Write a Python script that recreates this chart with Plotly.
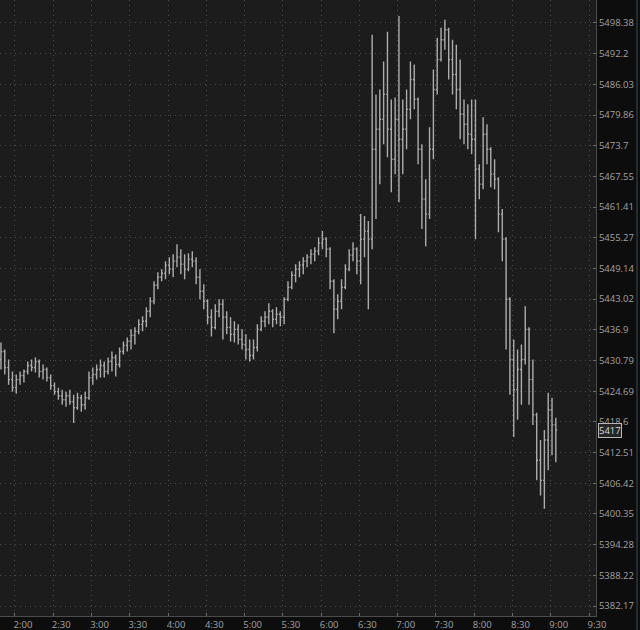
import math
import pandas as pd
import plotly.graph_objects as go

# ---- data (3-minute OHLC bars) ----
opens = [
    5431.0, 5432.6, 5429.4, 5427.0, 5425.4, 5427.0, 5427.8, 5428.6, 5429.8, 5429.4,
    5430.6, 5428.6, 5429.0, 5427.4, 5425.8, 5424.6, 5423.8, 5423.0, 5423.8, 5422.6,
    5421.4, 5423.4, 5422.0, 5423.4, 5427.4, 5428.0, 5429.0, 5429.8, 5428.6, 5430.6,
    5431.4, 5430.0, 5432.6, 5433.8, 5434.6, 5435.8, 5436.6, 5438.0, 5438.6, 5440.6,
    5442.6, 5445.8, 5447.4, 5448.2, 5449.8, 5449.0, 5450.6, 5451.4, 5450.0, 5449.0,
    5451.0, 5450.6, 5447.4, 5444.6, 5442.6, 5439.4, 5437.4, 5440.6, 5442.0, 5439.4,
    5437.4, 5436.0, 5437.0, 5435.0, 5434.0, 5433.0, 5431.8, 5433.4, 5437.0, 5438.6,
    5439.4, 5440.6, 5439.0, 5440.0, 5439.4, 5443.0, 5445.4, 5447.8, 5449.0, 5449.8,
    5450.6, 5451.4, 5452.0, 5452.6, 5454.2, 5455.0, 5453.0, 5446.6, 5441.0, 5442.6,
    5445.4, 5449.0, 5451.8, 5453.0, 5450.6, 5455.0, 5456.6, 5455.0, 5473.0, 5477.0,
    5479.0, 5484.0, 5477.0, 5471.0, 5479.0, 5475.0, 5477.0, 5481.0, 5487.0, 5483.0,
    5473.0, 5463.0, 5460.0, 5473.0, 5485.0, 5491.0, 5495.0, 5497.0, 5491.0, 5488.0,
    5485.0, 5480.0, 5478.0, 5476.0, 5475.0, 5469.0, 5466.0, 5476.0, 5473.0, 5468.0,
    5467.0, 5460.0, 5455.0, 5443.0, 5431.0, 5425.0, 5429.0, 5431.0, 5437.0, 5427.0,
    5420.0, 5411.0, 5407.0, 5415.0, 5421.0, 5418.0,
]
highs = [
    5434.4, 5433.0, 5431.0, 5428.6, 5428.0, 5428.6, 5429.0, 5430.6, 5431.0, 5431.4,
    5431.0, 5430.0, 5429.4, 5428.0, 5426.4, 5425.4, 5425.0, 5424.6, 5425.0, 5424.0,
    5424.4, 5424.0, 5424.6, 5428.6, 5429.4, 5430.0, 5431.0, 5430.6, 5431.4, 5432.6,
    5432.0, 5433.4, 5434.6, 5435.4, 5437.0, 5437.4, 5439.0, 5439.6, 5441.4, 5443.4,
    5446.6, 5448.4, 5449.0, 5450.6, 5451.4, 5452.0, 5454.0, 5453.0, 5452.0, 5452.2,
    5452.6, 5451.4, 5449.0, 5446.0, 5443.0, 5441.0, 5442.0, 5443.0, 5443.0, 5440.6,
    5439.4, 5438.6, 5438.0, 5437.0, 5436.0, 5435.0, 5435.0, 5438.0, 5439.6, 5440.6,
    5442.2, 5441.0, 5441.4, 5440.6, 5443.4, 5446.6, 5448.6, 5450.0, 5450.6, 5451.4,
    5452.0, 5453.0, 5453.4, 5455.4, 5456.6, 5455.4, 5453.4, 5447.0, 5444.0, 5447.0,
    5450.0, 5453.0, 5454.4, 5453.4, 5460.0, 5459.6, 5458.6, 5496.0, 5484.0, 5485.0,
    5490.6, 5496.6, 5483.0, 5483.4, 5499.8, 5483.0, 5485.0, 5490.6, 5490.0, 5483.4,
    5474.0, 5467.0, 5477.4, 5489.0, 5495.4, 5497.4, 5499.0, 5497.4, 5495.0, 5494.0,
    5491.0, 5483.0, 5482.0, 5483.0, 5483.0, 5470.0, 5479.4, 5478.0, 5473.4, 5471.0,
    5467.4, 5461.0, 5455.4, 5443.4, 5435.0, 5433.0, 5434.0, 5441.6, 5437.4, 5431.0,
    5420.4, 5415.0, 5417.0, 5424.4, 5423.4, 5419.4,
]
lows = [
    5429.0, 5428.0, 5426.0, 5424.6, 5424.2, 5426.0, 5426.4, 5428.0, 5428.6, 5428.4,
    5427.4, 5427.0, 5426.6, 5425.0, 5424.0, 5423.0, 5422.0, 5421.6, 5422.0, 5418.4,
    5421.0, 5420.6, 5421.0, 5423.0, 5426.0, 5427.0, 5427.4, 5427.4, 5428.0, 5428.6,
    5427.6, 5429.4, 5432.0, 5432.6, 5433.0, 5434.0, 5436.0, 5436.6, 5437.4, 5439.4,
    5442.0, 5445.0, 5446.6, 5447.0, 5448.0, 5447.4, 5449.4, 5448.0, 5447.0, 5448.6,
    5449.4, 5446.0, 5443.0, 5441.0, 5438.0, 5435.6, 5437.0, 5439.4, 5435.0, 5436.0,
    5434.6, 5434.4, 5434.0, 5433.0, 5431.0, 5430.6, 5431.0, 5432.6, 5436.6, 5437.4,
    5438.0, 5437.4, 5438.0, 5437.6, 5438.0, 5442.6, 5445.0, 5446.4, 5447.4, 5448.0,
    5449.4, 5450.0, 5450.6, 5451.8, 5453.0, 5451.4, 5445.0, 5436.2, 5439.0, 5441.0,
    5445.0, 5448.6, 5450.6, 5448.0, 5446.0, 5451.4, 5441.0, 5453.0, 5459.0, 5466.0,
    5474.0, 5471.4, 5464.4, 5468.0, 5462.4, 5468.0, 5473.0, 5479.0, 5481.0, 5470.0,
    5457.0, 5453.6, 5459.0, 5471.0, 5484.0, 5490.6, 5493.0, 5487.0, 5484.0, 5481.0,
    5475.0, 5474.0, 5473.0, 5472.0, 5455.0, 5463.0, 5465.0, 5470.0, 5465.4, 5465.0,
    5456.4, 5450.6, 5433.0, 5424.0, 5415.6, 5419.0, 5422.0, 5430.0, 5422.0, 5418.0,
    5407.0, 5404.0, 5401.4, 5409.0, 5412.0, 5410.6,
]
closes = [
    5432.6, 5429.4, 5427.0, 5425.4, 5427.0, 5427.8, 5428.6, 5429.8, 5429.4, 5430.6,
    5428.6, 5429.0, 5427.4, 5425.8, 5424.6, 5423.8, 5423.0, 5423.8, 5422.6, 5421.4,
    5423.4, 5422.0, 5423.4, 5427.4, 5428.0, 5429.0, 5429.8, 5428.6, 5430.6, 5431.4,
    5430.0, 5432.6, 5433.8, 5434.6, 5435.8, 5436.6, 5438.0, 5438.6, 5440.6, 5442.6,
    5445.8, 5447.4, 5448.2, 5449.8, 5449.0, 5450.6, 5451.4, 5450.0, 5449.0, 5451.0,
    5450.6, 5447.4, 5444.6, 5442.6, 5439.4, 5437.4, 5440.6, 5442.0, 5439.4, 5437.4,
    5436.0, 5437.0, 5435.0, 5434.0, 5433.0, 5431.8, 5433.4, 5437.0, 5438.6, 5439.4,
    5440.6, 5439.0, 5440.0, 5439.4, 5443.0, 5445.4, 5447.8, 5449.0, 5449.8, 5450.6,
    5451.4, 5452.0, 5452.6, 5454.2, 5455.0, 5453.0, 5446.6, 5441.0, 5442.6, 5445.4,
    5449.0, 5451.8, 5453.0, 5450.6, 5455.0, 5456.6, 5455.0, 5473.0, 5477.0, 5479.0,
    5484.0, 5477.0, 5471.0, 5479.0, 5475.0, 5477.0, 5481.0, 5487.0, 5483.0, 5473.0,
    5463.0, 5460.0, 5473.0, 5485.0, 5491.0, 5495.0, 5497.0, 5491.0, 5488.0, 5485.0,
    5480.0, 5478.0, 5476.0, 5475.0, 5469.0, 5466.0, 5476.0, 5473.0, 5468.0, 5467.0,
    5460.0, 5455.0, 5443.0, 5431.0, 5425.0, 5429.0, 5431.0, 5437.0, 5427.0, 5420.0,
    5411.0, 5407.0, 5415.0, 5421.0, 5418.0, 5417.0,
]

x_tick_labels = ["2:00", "2:30", "3:00", "3:30", "4:00", "4:30", "5:00", "5:30",
                 "6:00", "6:30", "7:00", "7:30", "8:00", "8:30", "9:00", "9:30"]
x_tick_vals = ["2024-06-20 02:00", "2024-06-20 02:30", "2024-06-20 03:00", "2024-06-20 03:30",
               "2024-06-20 04:00", "2024-06-20 04:30", "2024-06-20 05:00", "2024-06-20 05:30",
               "2024-06-20 06:00", "2024-06-20 06:30", "2024-06-20 07:00", "2024-06-20 07:30",
               "2024-06-20 08:00", "2024-06-20 08:30", "2024-06-20 09:00", "2024-06-20 09:30"]
y_tick_vals = [5382.17, 5388.22, 5394.28, 5400.35, 5406.42, 5412.51, 5418.6, 5424.69,
               5430.79, 5436.9, 5443.02, 5449.14, 5455.27, 5461.41, 5467.55, 5473.7,
               5479.86, 5486.03, 5492.2, 5498.38]
y_tick_labels = ["5382.17", "5388.22", "5394.28", "5400.35", "5406.42", "5412.51", "5418.6",
                 "5424.69", "5430.79", "5436.9", "5443.02", "5449.14", "5455.27", "5461.41",
                 "5467.55", "5473.7", "5479.86", "5486.03", "5492.2", "5498.38"]
last_price_label = "5417"

times = pd.date_range("2024-06-20 01:49", periods=len(closes), freq="3min")

bar_color = "#acacac"
fig = go.Figure(go.Ohlc(
    x=times, open=opens, high=highs, low=lows, close=closes,
    increasing=dict(line=dict(color=bar_color, width=1.4)),
    decreasing=dict(line=dict(color=bar_color, width=1.4)),
    tickwidth=0.35, hoverinfo="skip",
))

label_font = dict(family="Open Sans", size=9.5, color="#a2a2a2")
grid = dict(showgrid=True, gridcolor="#4a4a4a", griddash="1px,4px", gridwidth=1,
            zeroline=False, showline=True, linecolor="#4c4c4c", linewidth=1,
            ticks="inside", ticklen=3, tickcolor="#6a6a6a", automargin=False,
            tickfont=label_font)

fig.update_layout(
    width=640, height=630,
    margin=dict(l=0, r=44, t=0, b=14),
    paper_bgcolor="#0d0d0d", plot_bgcolor="#1c1c1c",
    showlegend=False,
    xaxis=dict(type="date", range=["2024-06-20 01:48:15", "2024-06-20 09:35:29"],
               tickmode="array", tickvals=x_tick_vals, ticktext=x_tick_labels,
               ticklabelshift=8, rangeslider=dict(visible=False), **grid),
    yaxis=dict(type="log", side="right",
               range=[math.log10(5380.2), math.log10(5503.0)],
               tickmode="array", tickvals=y_tick_vals, ticktext=y_tick_labels,
               **grid),
    annotations=[dict(
        xref="paper", x=1, xanchor="left", xshift=2,
        yref="y", y=math.log10(closes[-1]), yanchor="middle", yshift=-1,
        text=last_price_label, showarrow=False,
        font=dict(family="Open Sans", size=9.5, color="#d8d8d8"),
        bgcolor="#262626", bordercolor="#b8b8b8", borderwidth=1, borderpad=0,
    )],
    shapes=[dict(type="line", xref="paper", yref="paper",
                 x0=637 / 596, x1=637 / 596, y0=-14 / 616, y1=1,
                 line=dict(color="#3a4a5a", width=1))],
)

fig.write_html("out.html", config={"displayModeBar": False},
               post_script="document.body.style.margin='0px';document.body.style.overflow='hidden';")
